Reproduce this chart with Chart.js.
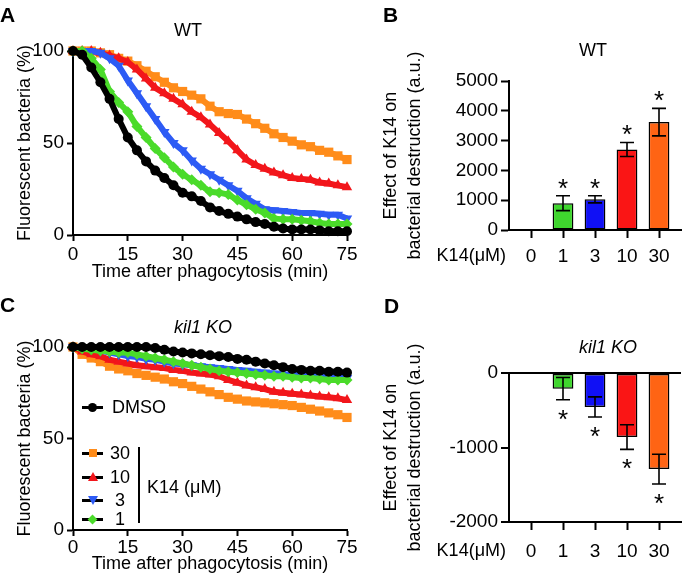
<!DOCTYPE html>
<html><head><meta charset="utf-8">
<script src="https://cdn.jsdelivr.net/npm/chart.js@4.4.1/dist/chart.umd.min.js"></script>
<style>
html,body{margin:0;padding:0;background:#fff}
body{width:682px;height:580px;position:relative;overflow:hidden;font-family:"Liberation Sans",Arial,sans-serif;color:#000}
canvas{position:absolute}
.t{position:absolute;font-size:18px;line-height:18px;white-space:nowrap;transform:translate(-50%,-50%)}
.l{position:absolute;font-size:18px;line-height:18px;white-space:nowrap;transform:translateY(-50%)}
.r{position:absolute;font-size:18px;line-height:18px;white-space:nowrap;transform:translate(-100%,-50%)}
.letter{position:absolute;font-weight:bold;font-size:21px;line-height:21px}
.mk{position:absolute}
</style></head><body>
<canvas id="cA" width="362" height="290" style="left:0;top:0;width:362px;height:290px"></canvas>
<canvas id="cB" width="341" height="290" style="left:341px;top:0;width:341px;height:290px"></canvas>
<canvas id="cC" width="362" height="290" style="left:0;top:290px;width:362px;height:290px"></canvas>
<canvas id="cD" width="341" height="290" style="left:341px;top:290px;width:341px;height:290px"></canvas>

<div class="letter" style="left:0px;top:4px">A</div>
<div class="letter" style="left:383px;top:4px">B</div>
<div class="letter" style="left:0px;top:294px">C</div>
<div class="letter" style="left:384px;top:295px">D</div>

<div class="t" style="left:188px;top:30px">WT</div>
<div class="t" style="left:593px;top:50px">WT</div>
<div class="t" style="left:203px;top:327px;font-style:italic">kil1 KO</div>
<div class="t" style="left:608px;top:347px;font-style:italic">kil1 KO</div>
<div class="r" style="left:506px;top:255px">K14(μM)</div>
<div class="r" style="left:506px;top:550px">K14(μM)</div>

<div id="legend"></div>
<div class="mk" style="left:138px;top:447px;width:2px;height:76px;background:#000"></div>
<div class="l" style="left:147px;top:487px">K14 (μM)</div>

<script>
// ---------------- data ----------------
const times = [0,2.5,5,7.5,10,12.5,15,17.5,20,22.5,25,27.5,30,32.5,35,37.5,40,42.5,45,47.5,50,52.5,55,57.5,60,62.5,65,67.5,70,72.5,75];

// Panel A (WT) – fluorescent bacteria (%)
const wtDMSO = [100,98,91,83,74,63,53,46,40,35,31,27,23,21,18.5,15,13,11.5,10,8.5,7,6,4.5,3.5,3,3,3,2.5,2,2,2];
const wtK1   = [100,100,96,90,78,72,67,59,53,47,42,37,33,30,27,23.5,23,22,19,16.5,14,12,9,8.5,8.5,8,7.5,6.5,6,6,6];
const wtK3   = [100,100,100,99,96,92,84,77,70,63,56,50,46,40.5,36,33,30,27,24,20,17,14,13.5,13,12.5,12,12,11.5,11,11,9];
const wtK10  = [100,100,100,99,97.5,96,94,90,85,80,77,74,71,67,64,60,55.5,51,46,41,38,36,34,32.5,31,30.5,30,28.5,28,27,26];
const wtK30  = [100,100,100,99,98,96,94.5,92,89,86,83,80,78,76,74,70,67,66,65.5,63,60.5,58,55,53,51,49,48,46,45,43,41];

// Panel C (kil1 KO)
const koDMSO = [100,100,100,100,100,100,100,100,100,99.5,98.5,97.5,97,96.5,96,95.5,95,94.5,93.5,93,92,91,90,89,88,87.5,87,87,86.5,86.5,86];
const koK1   = [100,99,98.5,98,97.5,97,97,96,95,94,93,92,91,90,89,88,87,86.5,86,85.5,85,84.5,84,84,83.5,83,83,82.5,82,82,82];
const koK3   = [100,100,99,98,97,96,95,94.5,93.5,93,92,91,90.5,90,89.5,89,88.5,88,87.5,87,86.5,86,85.5,85,84.5,84.5,84,84,83.5,83.5,83];
const koK10  = [100,97.5,96,95,93,92,91,90,89.5,89,88.5,87.5,87,86,85.5,85,84,82,80.5,79,78,77,75.5,75,74.5,74,73.5,73,72.5,72,71];
const koK30  = [100,96,94,92,89.5,88,87,85.5,84.5,83.5,82.5,81,80,78.5,77,75.5,74,72.5,71.5,70.5,70,69.5,69,68.5,68,67,66,65,64,63,61.5];

// Panels B and D – effect of K14 (a.u.)
const doses    = ['0','1','3','10','30'];
const wtEffect = [0, 900, 1030, 2700, 3620];
const wtSem    = [0, 250, 120, 235, 460];
const koEffect = [0, -210, -455, -860, -1290];
const koSem    = [0, 150, 135, 165, 200];

const seriesLabels = ['DMSO','30','10','3','1'];

// ---------------- styling ----------------
const FAM = '"Liberation Sans", Arial, sans-serif';
const F18 = {family: FAM, size: 18};
const FT = {family: FAM, size: 19};
const curveCol = {DMSO:'#000000', '30':'#FF8C1A', '10':'#F2161B', '3':'#2D5BF5', '1':'#4ADB2A'};
const curveStyle = {DMSO:['circle',5,0], '30':['rect',6.5,0], '10':['triangle',6,0], '3':['triangle',6,180], '1':['rectRot',5.5,0]};
const barCol = ['#ffffff','#3FD62E','#1010F5','#FA1515','#FF6414'];

function mkDatasets(list){
  return list.map(([lab, vals]) => {
    const c = curveCol[lab], s = curveStyle[lab];
    return {
      label: lab,
      data: times.map((t,i)=>({x:t, y:vals[i]})),
      borderColor: c, backgroundColor: c,
      pointBackgroundColor: c, pointBorderColor: c, pointBorderWidth: 0,
      pointStyle: s[0], pointRadius: s[1], pointRotation: s[2],
      borderWidth: 6, tension: 0, fill: false, clip: false
    };
  });
}

function axisBase(){
  return {
    grid: {display: true, drawOnChartArea: false, drawTicks: true, tickColor: '#000', tickWidth: 2, offset: false},
    border: {display: true, color: '#000', width: 2},
  };
}

function curveChart(id, sets, o){
  const xa = axisBase(), ya = axisBase();
  new Chart(document.getElementById(id), {
    type: 'line',
    data: {datasets: mkDatasets(sets)},
    options: {
      responsive: false, animation: false, events: [],
      layout: {padding: {top: o.top, right: 15, left: 0, bottom: 0}},
      plugins: {legend: {display: false}, tooltip: {enabled: false}, title: {display: false}},
      scales: {
        x: Object.assign(xa, {
          type: 'linear', min: 0, max: 75,
          grid: Object.assign(xa.grid, {tickLength: 6}),
          ticks: {stepSize: 15, font: FT, color: '#000', padding: o.xPad, maxRotation: 0, autoSkip: false},
          title: {display: true, text: 'Time after phagocytosis (min)', font: F18, color: '#000', padding: {top: 0, bottom: o.xTitlePad}},
          afterFit: s => { s.height = o.xH; s.paddingLeft = 0; s.paddingRight = 0; }
        }),
        y: Object.assign(ya, {
          type: 'linear', min: 0, max: 100,
          grid: Object.assign(ya.grid, {tickLength: 6}),
          ticks: {stepSize: 50, font: FT, color: '#000', padding: 3},
          title: {display: true, text: 'Fluorescent bacteria (%)', font: F18, color: '#000', padding: {top: 14, bottom: 0}},
          afterFit: s => { s.width = 73; s.paddingTop = 0; s.paddingBottom = 0; }
        })
      }
    }
  });
}

const errPlugin = {
  id: 'errbars',
  afterDatasetsDraw(chart, args, opts){
    const {ctx} = chart; const x = chart.scales.x, y = chart.scales.y;
    ctx.save();
    ctx.strokeStyle = '#000'; ctx.lineWidth = 1.6; ctx.fillStyle = '#000';
    opts.means.forEach((m, i) => {
      const s = opts.sems[i]; if (!s) return;
      const px = x.getPixelForValue(i);
      const a = y.getPixelForValue(m + s), b = y.getPixelForValue(m - s);
      ctx.beginPath();
      ctx.moveTo(px, a); ctx.lineTo(px, b);
      ctx.moveTo(px - 7, a); ctx.lineTo(px + 7, a);
      ctx.moveTo(px - 7, b); ctx.lineTo(px + 7, b);
      ctx.stroke();
      const sc = opts.dir > 0 ? a - 14 : b + 13;
      ctx.font = '26px ' + FAM; ctx.textAlign = 'center'; ctx.textBaseline = 'alphabetic';
      ctx.fillText('*', px, sc + 0.57 * 26);
    });
    ctx.restore();
  }
};

function barChart(id, means, sems, o){
  const xa = axisBase(), ya = axisBase();
  new Chart(document.getElementById(id), {
    type: 'bar',
    data: {datasets: [{
      data: means.map((v,i)=>({x:i, y:v})),
      backgroundColor: barCol, borderColor: '#000', borderWidth: 1.5,
      categoryPercentage: 1, barPercentage: 0.65, borderSkipped: false
    }]},
    plugins: [errPlugin],
    options: {
      responsive: false, animation: false, events: [],
      layout: {padding: {top: o.top, right: 1, left: 0, bottom: 0}},
      plugins: {legend: {display: false}, tooltip: {enabled: false}, errbars: {means, sems, dir: o.dir}},
      scales: {
        x: Object.assign(xa, {
          type: 'linear', min: -0.6875, max: 4.6875, position: 'bottom', offset: false,
          grid: Object.assign(xa.grid, {tickLength: 8}),
          ticks: {font: FT, color: '#000', padding: o.xPad, maxRotation: 0, autoSkip: false,
                  callback: v => doses[v]},
          afterBuildTicks: s => { s.ticks = doses.map((d,i)=>({value:i})); },
          afterFit: s => { s.height = o.xH; s.paddingLeft = 0; s.paddingRight = 0; }
        }),
        y: Object.assign(ya, {
          type: 'linear', min: o.ymin, max: o.ymax,
          grid: Object.assign(ya.grid, o.zeroLine ? {drawOnChartArea: true, tickLength: 8, lineWidth: 2,
                  color: c => c.tick && c.tick.value === 0 ? '#000' : 'rgba(0,0,0,0)'} : {tickLength: 8}),
          ticks: {stepSize: o.step, font: FT, color: '#000', padding: 3, callback: v => String(v)},
          title: {display: true, text: ['Effect of K14 on', 'bacterial destruction (a.u.)'],
                  font: {family: FAM, size: 18, lineHeight: 1.333}, color: '#000', padding: {top: 38, bottom: 0}},
          afterFit: s => { s.width = 168; s.paddingTop = 0; s.paddingBottom = 0; }
        })
      }
    }
  });
}

curveChart('cA', [['DMSO', wtDMSO], ['1', wtK1], ['3', wtK3], ['10', wtK10], ['30', wtK30]],
           {top: 51, xH: 55, xPad: 2, xTitlePad: 7});
curveChart('cC', [['DMSO', koDMSO], ['1', koK1], ['3', koK3], ['10', koK10], ['30', koK30]],
           {top: 57, xH: 50, xPad: 0, xTitlePad: 5});
barChart('cB', wtEffect, wtSem, {top: 81, xH: 60, xPad: 7, ymin: 0, ymax: 5000, step: 1000, dir: 1, zeroLine: false});
barChart('cD', koEffect, koSem, {top: 83, xH: 58, xPad: 10, ymin: -2000, ymax: 0, step: 1000, dir: -1, zeroLine: true});

// legend for panel C
(function(){
  const rows = [407, 453, 477, 500, 519];
  const host = document.getElementById('legend');
  seriesLabels.forEach((lab, i) => {
    const y = rows[i], c = curveCol[lab], st = curveStyle[lab][0], rot = curveStyle[lab][2];
    const line = document.createElement('div');
    line.className = 'mk';
    line.style.cssText = `left:82px;top:${y-1.5}px;width:21px;height:3px;background:#000`;
    host.appendChild(line);
    const m = document.createElement('div'); m.className = 'mk';
    if (st === 'circle') m.style.cssText = `left:88px;top:${y-4.5}px;width:9px;height:9px;border-radius:50%;background:${c}`;
    else if (st === 'rect') m.style.cssText = `left:88.5px;top:${y-4}px;width:8px;height:8px;background:${c}`;
    else if (st === 'triangle' && rot === 0) m.style.cssText = `left:87.5px;top:${y-5}px;width:0;height:0;border-left:5px solid transparent;border-right:5px solid transparent;border-bottom:9px solid ${c}`;
    else if (st === 'triangle') m.style.cssText = `left:87.5px;top:${y-4}px;width:0;height:0;border-left:5px solid transparent;border-right:5px solid transparent;border-top:9px solid ${c}`;
    else m.style.cssText = `left:89px;top:${y-3.5}px;width:7px;height:7px;background:${c};transform:rotate(45deg)`;
    host.appendChild(m);
    const t = document.createElement('div');
    if (lab === 'DMSO') { t.className = 'l'; t.style.cssText = `left:112px;top:${y}px`; }
    else { t.className = 't'; t.style.cssText = `left:120px;top:${y}px`; }
    t.textContent = lab;
    host.appendChild(t);
  });
})();
</script>
</body></html>
